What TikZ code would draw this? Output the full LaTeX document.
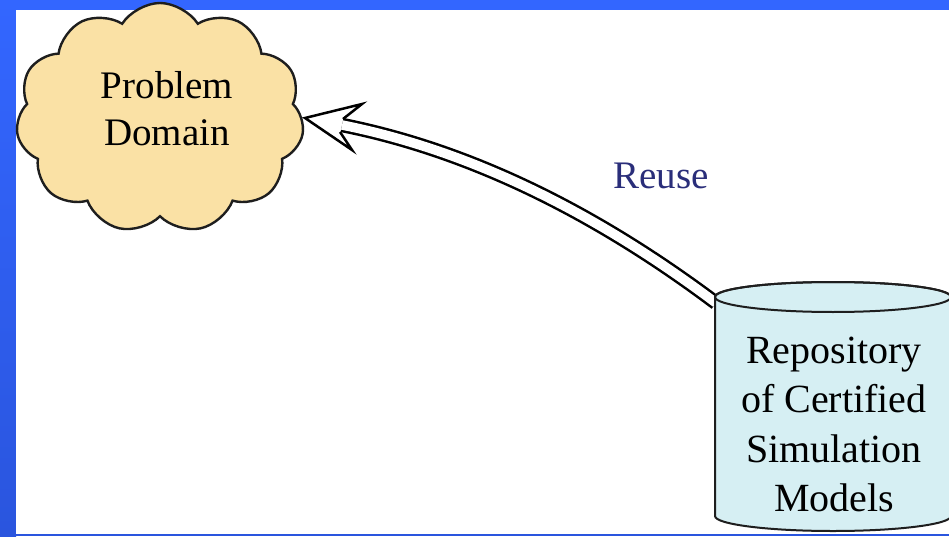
\documentclass[tikz,border=0pt]{standalone}
\usepackage{fontspec}
\setmainfont{Liberation Serif}
\usetikzlibrary{shapes.symbols}
\definecolor{framebl}{RGB}{51,102,255}
\definecolor{framebl2}{RGB}{42,85,222}
\definecolor{cloudfill}{RGB}{250,225,165}
\definecolor{cylfill}{RGB}{214,239,243}
\definecolor{outline}{RGB}{30,30,30}
\definecolor{navy}{RGB}{42,46,122}
\tikzset{
  cloudbox/.style={cloud, cloud puffs=11, cloud puff arc=115, aspect=1.32,
    fill=cloudfill, draw=outline, line width=2.4pt, inner sep=0pt},
  cloudtext/.style={align=center, font=\fontsize{39}{47}\selectfont, inner sep=0pt},
  cyltext/.style={align=center, font=\fontsize{40}{49.5}\selectfont, inner sep=0pt},
  cylbody/.style={fill=cylfill, draw=outline, line width=2pt},
  shaft/.style={draw=black, line width=2.5pt, double=white, double distance=9.5pt},
  headshape/.style={fill=white, draw=black, line width=2.5pt, line join=miter},
  lbl/.style={text=navy, font=\fontsize{39}{47}\selectfont, inner sep=0pt}
}
\begin{document}
\begin{tikzpicture}[x=1pt,y=1pt]
\useasboundingbox (0,0) rectangle (949,536);
% frame
\fill[framebl] (0,0) rectangle (949,536);
\shade[top color=framebl, bottom color=framebl2] (0,0) rectangle (16,536);
\fill[framebl2] (16,0) rectangle (949,2);
\fill[white] (16,2) rectangle (949,526);
% cloud
\node[cloudbox, minimum width=288pt, minimum height=230pt] (prob) at (160,418) {};
\node[cloudtext] (probtext) at (167,427.5) {Problem\\Domain};
% arrow
\coordinate (astart) at (716,233);
\coordinate (aend) at (342,411);
\coordinate (tip) at (305,418);
\draw[shaft] (astart) .. controls (590.7,327) and (466,386.3) .. (aend);
\path[headshape] (343,417) -- (362,432) -- (tip) -- (352,386) -- (340,404);
% cylinder
\path[cylbody] (715,239) -- (715,20) arc[start angle=180, end angle=360, x radius=118, y radius=15]
  -- (951,239) arc[start angle=0, end angle=180, x radius=118, y radius=15] -- cycle;
\draw[outline, line width=2pt] (833,239) ellipse[x radius=118, y radius=15];
\node[cyltext] (repo) at (834,111.5) {Repository\\of Certified\\Simulation\\Models};
% label
\node[lbl] (reuse) at (661,360) {Reuse};
\end{tikzpicture}
\end{document}
